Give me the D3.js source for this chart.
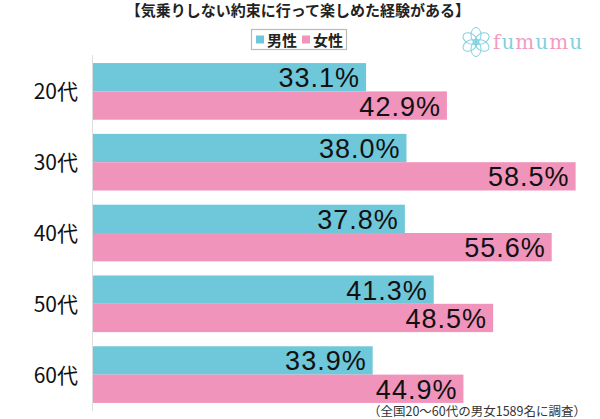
<!DOCTYPE html>
<html><head><meta charset="utf-8">
<script src="https://cdn.jsdelivr.net/npm/d3@7"></script>
<style>body{margin:0;background:#fff;}svg{display:block;}</style>
</head><body>
<svg id="c" width="600" height="419"></svg>
<script>
const categories = ["20代","30代","40代","50代","60代"];
const maleValues = [33.1, 38.0, 37.8, 41.3, 33.9];
const femaleValues = [42.9, 58.5, 55.6, 48.5, 44.9];
const seriesNames = ["男性","女性"];
const title = "【気乗りしない約束に行って楽しめた経験がある】";
const footnote = "（全国20〜60代の男女1589名に調査）";

(function(){
const colors = ["#6fc7da", "#f094bb"];
const jp = "'Noto Sans CJK JP', 'Noto Sans', sans-serif";
const svg = d3.select("#c");
const pL = 93, pR = 588, pT = 56, pB = 410;

const x = d3.scaleLinear().domain([0, 60]).range([pL, pR]);
const y = d3.scaleBand().domain(categories).range([pT, pB]).paddingInner(0.2).paddingOuter(0.1);
const ys = d3.scaleBand().domain(seriesNames).range([0, y.bandwidth()]);

svg.append("text").attr("x", 298).attr("y", 16).attr("text-anchor", "middle")
  .attr("font-family", jp).attr("font-weight", "bold").attr("font-size", 15).attr("fill", "#222").text(title);

const lg = svg.append("g");
lg.append("rect").attr("x", 251.5).attr("y", 29.5).attr("width", 95).attr("height", 20)
  .attr("fill", "#fff").attr("stroke", "#bbb").attr("stroke-width", 1.2);
const lx = [256, 302];
seriesNames.forEach((s, i) => {
  lg.append("rect").attr("x", lx[i]).attr("y", 35.5).attr("width", 8).attr("height", 8).attr("fill", colors[i]);
  lg.append("text").attr("x", lx[i] + 11).attr("y", 45.5).attr("font-family", jp).attr("font-weight", "bold")
    .attr("font-size", 15).attr("fill", "#222").text(s);
});

const logo = svg.append("g").attr("transform", "translate(476,42)");
d3.range(6).map(k => k * 60).forEach(a => {
  logo.append("ellipse").attr("cx", 0).attr("cy", -7).attr("rx", 5).attr("ry", 7.5)
    .attr("transform", `rotate(${a})`).attr("fill", "none").attr("stroke", "#7fd0e0").attr("stroke-width", 1);
});
logo.append("circle").attr("r", 3).attr("fill", "none").attr("stroke", "#7fd0e0").attr("stroke-width", 1);
const letters = "fumumu".split("");
const lcol = ["#f29bc0","#7fd0e0","#f29bc0","#7fd0e0","#f29bc0","#7fd0e0"];
const lt = svg.append("text").attr("x", 493).attr("y", 49).attr("font-family", "'DejaVu Serif', serif")
  .attr("font-size", 20).attr("letter-spacing", 1);
letters.forEach((c, i) => lt.append("tspan").attr("fill", lcol[i]).text(c));

svg.append("line").attr("x1", pL - 0.5).attr("x2", pL - 0.5).attr("y1", 55).attr("y2", 411)
  .attr("stroke", "#ddd").attr("stroke-width", 1);

const data = [];
categories.forEach((c, i) => {
  data.push({cat: c, s: seriesNames[0], v: maleValues[i], col: colors[0]});
  data.push({cat: c, s: seriesNames[1], v: femaleValues[i], col: colors[1]});
});
const g = svg.append("g");
g.selectAll("rect.bar").data(data).join("rect").attr("class", "bar")
  .attr("x", x(0)).attr("y", d => y(d.cat) + ys(d.s)).attr("width", d => x(d.v) - x(0))
  .attr("height", ys.bandwidth()).attr("fill", d => d.col);

g.selectAll("text.val").data(data).join("text").attr("class", "val")
  .attr("x", d => x(d.v) - 6).attr("y", d => y(d.cat) + ys(d.s) + ys.bandwidth() / 2 + 10)
  .attr("text-anchor", "end").attr("font-family", "'Liberation Sans', Arial, sans-serif")
  .attr("font-size", 27).attr("letter-spacing", 1).attr("fill", "#111")
  .text(d => d.v.toFixed(1) + "%");

svg.selectAll("text.cat").data(categories).join("text").attr("class", "cat")
  .attr("x", 78).attr("y", d => y(d) + y.bandwidth() / 2 + 8).attr("text-anchor", "end")
  .attr("font-family", jp).attr("font-size", 21).attr("fill", "#111").text(d => d);

svg.append("text").attr("x", 586).attr("y", 416).attr("text-anchor", "end")
  .attr("font-family", jp).attr("font-size", 12.5).attr("fill", "#333").text(footnote);
})();
</script>
</body></html>
